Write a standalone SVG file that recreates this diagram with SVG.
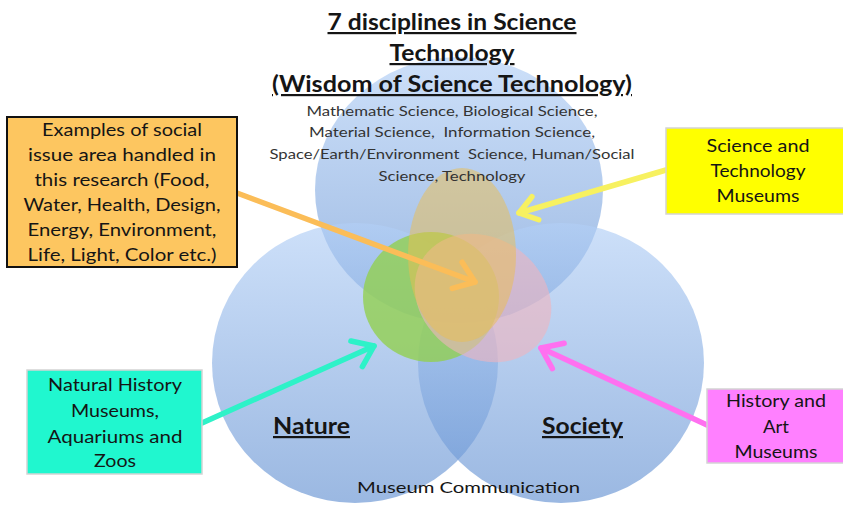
<svg xmlns="http://www.w3.org/2000/svg" width="843" height="506" viewBox="0 0 843 506">
<defs>
<style>
.t{font-family:Lato,"Liberation Sans",sans-serif;text-anchor:middle;fill:#151515}
.title{font-size:22px;font-weight:bold;text-decoration:underline}
.sub{font-size:14px;fill:#333;white-space:pre}
.box{font-size:18px}
.lbl{font-size:22px;font-weight:bold;text-decoration:underline}
.circ{fill-opacity:0.65}
.arr{fill:none;stroke-width:5.5;stroke-linecap:round;stroke-linejoin:round}
</style>
<linearGradient id="bg" x1="0" y1="0" x2="0" y2="1">
<stop offset="0" stop-color="#b2cff6"/>
<stop offset="1" stop-color="#6592d2"/>
</linearGradient>
<marker id="mo" markerUnits="userSpaceOnUse" orient="auto" viewBox="-30 -20 40 40" markerWidth="40" markerHeight="40" refX="0" refY="0" overflow="visible"><path d="M-19,-14 L0,0 L-19,14" class="arr" stroke="#fbbd58"/></marker>
<marker id="my" markerUnits="userSpaceOnUse" orient="auto" viewBox="-30 -20 40 40" markerWidth="40" markerHeight="40" refX="0" refY="0" overflow="visible"><path d="M-17,-12 L0,0 L-17,12" class="arr" stroke="#f7f160"/></marker>
<marker id="mc" markerUnits="userSpaceOnUse" orient="auto" viewBox="-30 -20 40 40" markerWidth="40" markerHeight="40" refX="0" refY="0" overflow="visible"><path d="M-19,-14 L0,0 L-19,14" class="arr" stroke="#2ef2c8"/></marker>
<marker id="mm" markerUnits="userSpaceOnUse" orient="auto" viewBox="-30 -20 40 40" markerWidth="40" markerHeight="40" refX="0" refY="0" overflow="visible"><path d="M-19,-14 L0,0 L-19,14" class="arr" stroke="#ff70f0"/></marker>
</defs>
<rect width="843" height="506" fill="#ffffff"/>

<g id="circles">
<ellipse id="technology" class="circ" cx="459" cy="190" rx="144" ry="133" fill="url(#bg)"/>
<ellipse id="nature" class="circ" cx="355" cy="363" rx="143" ry="140" fill="url(#bg)"/>
<ellipse id="society" class="circ" cx="561" cy="363" rx="143" ry="140" fill="url(#bg)"/>
</g>

<g id="inner">
<ellipse id="green" cx="431" cy="297" rx="68" ry="65" fill="#92d050" fill-opacity="0.8"/>
<ellipse id="pink" cx="483" cy="298" rx="72" ry="60" transform="rotate(35 483 298)" fill="#f0b4be" fill-opacity="0.6"/>
<ellipse id="khaki" cx="462" cy="255" rx="54" ry="87" fill="#ebbe50" fill-opacity="0.5"/>
</g>

<g id="title">
<text class="t title" x="452" y="30" textLength="249" lengthAdjust="spacingAndGlyphs">7 disciplines in Science</text>
<text class="t title" x="452" y="61" textLength="125" lengthAdjust="spacingAndGlyphs">Technology</text>
<text class="t title" x="452" y="92" textLength="360" lengthAdjust="spacingAndGlyphs">(Wisdom of Science Technology)</text>
<text class="t sub" x="452" y="116" textLength="291" lengthAdjust="spacingAndGlyphs">Mathematic Science, Biological Science,</text>
<text class="t sub" x="452" y="137" textLength="286" lengthAdjust="spacingAndGlyphs" xml:space="preserve">Material Science,  Information Science,</text>
<text class="t sub" x="452" y="159" textLength="365" lengthAdjust="spacingAndGlyphs" xml:space="preserve">Space/Earth/Environment  Science, Human/Social</text>
<text class="t sub" x="452" y="181" textLength="147" lengthAdjust="spacingAndGlyphs">Science, Technology</text>
</g>

<g id="labels">
<text class="t lbl" x="311.5" y="434" textLength="77" lengthAdjust="spacingAndGlyphs">Nature</text>
<text class="t lbl" x="582.5" y="434" textLength="81" lengthAdjust="spacingAndGlyphs">Society</text>
<text class="t" x="468.5" y="493" font-size="16" fill="#222" textLength="223" lengthAdjust="spacingAndGlyphs">Museum Communication</text>
</g>

<g id="connectors">
<path class="arr" stroke="#fbbd58" d="M237,193 L475,282" marker-end="url(#mo)"/>
<path class="arr" stroke="#f7f160" d="M666,170 L519,213" marker-end="url(#my)"/>
<path class="arr" stroke="#2ef2c8" d="M202,423 L374,346" marker-end="url(#mc)"/>
<path class="arr" stroke="#ff70f0" d="M707,425 L541,348" marker-end="url(#mm)"/>
</g>

<g id="box-social">
<rect x="7" y="117" width="230" height="150" fill="#fdc660" stroke="#111" stroke-width="2"/>
<text class="t box" x="122" y="136" textLength="160" lengthAdjust="spacingAndGlyphs">Examples of social</text>
<text class="t box" x="122" y="161" textLength="188" lengthAdjust="spacingAndGlyphs">issue area handled in</text>
<text class="t box" x="122" y="186" textLength="175" lengthAdjust="spacingAndGlyphs">this research (Food,</text>
<text class="t box" x="122" y="211" textLength="197" lengthAdjust="spacingAndGlyphs">Water, Health, Design,</text>
<text class="t box" x="122" y="236" textLength="189" lengthAdjust="spacingAndGlyphs">Energy, Environment,</text>
<text class="t box" x="122" y="261" textLength="189" lengthAdjust="spacingAndGlyphs">Life, Light, Color etc.)</text>
</g>

<g id="box-science">
<rect x="666" y="128" width="182" height="86" fill="#ffff00" stroke="#d4d4d4" stroke-width="1.5"/>
<text class="t box" x="758" y="152" textLength="103" lengthAdjust="spacingAndGlyphs">Science and</text>
<text class="t box" x="758" y="177" textLength="95" lengthAdjust="spacingAndGlyphs">Technology</text>
<text class="t box" x="758" y="202" textLength="83" lengthAdjust="spacingAndGlyphs">Museums</text>
</g>

<g id="box-nature">
<rect x="27" y="370" width="175" height="104" fill="#20f7cf" stroke="#d4d4d4" stroke-width="1.5"/>
<text class="t box" x="115" y="391" textLength="134" lengthAdjust="spacingAndGlyphs">Natural History</text>
<text class="t box" x="115" y="417" textLength="88" lengthAdjust="spacingAndGlyphs">Museums,</text>
<text class="t box" x="115" y="443" textLength="135" lengthAdjust="spacingAndGlyphs">Aquariums and</text>
<text class="t box" x="115" y="467" textLength="42" lengthAdjust="spacingAndGlyphs">Zoos</text>
</g>

<g id="box-history">
<rect x="707" y="389" width="142" height="74" fill="#ff80ff" stroke="#d4d4d4" stroke-width="1.5"/>
<text class="t box" x="776" y="407" textLength="100" lengthAdjust="spacingAndGlyphs">History and</text>
<text class="t box" x="776" y="433" textLength="26" lengthAdjust="spacingAndGlyphs">Art</text>
<text class="t box" x="776" y="458" textLength="83" lengthAdjust="spacingAndGlyphs">Museums</text>
</g>
</svg>
